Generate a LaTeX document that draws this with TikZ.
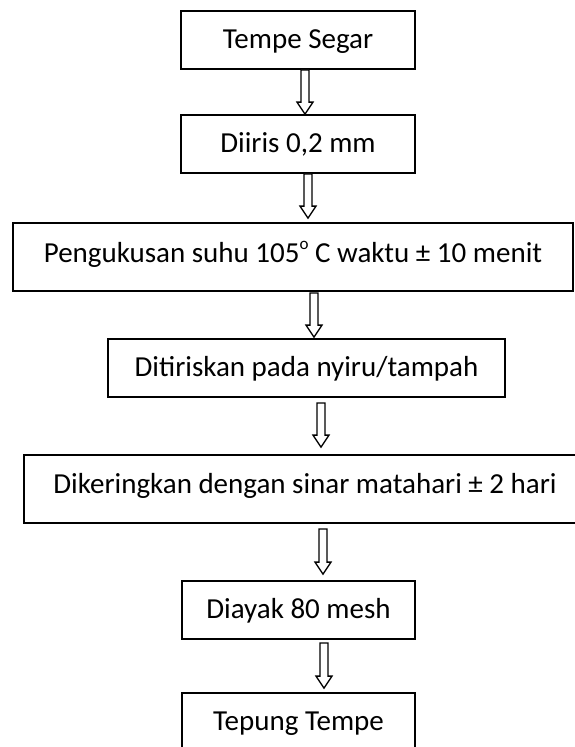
\documentclass[tikz,border=0pt]{standalone}
\usepackage{fontspec}
\setmainfont{Carlito}
\usetikzlibrary{calc}
\tikzset{
  stepbox/.style={draw=black, line width=1.8pt, rectangle, inner sep=0pt,
    font=\fontsize{29}{34}\selectfont, text height=18pt, text depth=2pt,
    minimum height=58pt},
  arrowstyle/.style={draw=black, fill=white, line width=1.3pt, line join=miter}
}
\newcommand\flowarrow[2]{%
  \draw[arrowstyle] ($(#1)+(-4,0)$) -- ($(#2)+(-4,-12)$) -- ($(#2)+(-8,-12)$) -- (#2)
    -- ($(#2)+(8,-12)$) -- ($(#2)+(4,-12)$) -- ($(#1)+(4,0)$) -- cycle;}
\newcommand\degsup{\raisebox{0.42em}{\fontsize{17}{17}\selectfont o}}
\begin{document}
\begin{tikzpicture}[x=1pt,y=-1pt]
\useasboundingbox (0,0) rectangle (575,747);
\fill[white] (0,0) rectangle (575,747);
\node[stepbox, minimum width=234pt] (b1) at (298,40) {Tempe Segar};
\node[stepbox, minimum width=234pt] (b2) at (298,144) {Diiris 0,2 mm};
\node[stepbox, minimum width=560pt, minimum height=68pt, text depth=8pt] (b3) at (293,257)
  {Pengukusan suhu 105\degsup\ C waktu ± 10 menit};
\node[stepbox, minimum width=397pt] (b4) at (306.5,368) {Ditiriskan pada nyiru/tampah};
\node[stepbox, minimum width=562pt, minimum height=68pt, text depth=9pt] (b5) at (305,489)
  {Dikeringkan dengan sinar matahari ± 2 hari};
\node[stepbox, minimum width=233pt] (b6) at (298.5,610) {Diayak 80 mesh};
\node[stepbox, minimum width=233pt] (b7) at (298.5,722) {Tepung Tempe};
% arrow end points
\coordinate (a1s) at ($(b1.south)+(7,0)$);
\coordinate (a1e) at ($(b2.north)+(7,0)$);
\coordinate (a2s) at ($(b2.south)+(10,0)$);
\coordinate (a2e) at ($(b3.north)+(15,-4)$);
\coordinate (a3s) at ($(b3.south)+(21,1)$);
\coordinate (a3e) at ($(b4.north)+(7.5,-1)$);
\coordinate (a4s) at ($(b4.south)+(14.5,5)$);
\coordinate (a4e) at ($(b5.north)+(16,-7)$);
\coordinate (a5s) at ($(b5.south)+(18,5)$);
\coordinate (a5e) at ($(b6.north)+(24.5,-6)$);
\coordinate (a6s) at ($(b6.south)+(25.5,3)$);
\coordinate (a6e) at ($(b7.north)+(25.5,-4)$);
\flowarrow{a1s}{a1e}
\flowarrow{a2s}{a2e}
\flowarrow{a3s}{a3e}
\flowarrow{a4s}{a4e}
\flowarrow{a5s}{a5e}
\flowarrow{a6s}{a6e}
\end{tikzpicture}
\end{document}
